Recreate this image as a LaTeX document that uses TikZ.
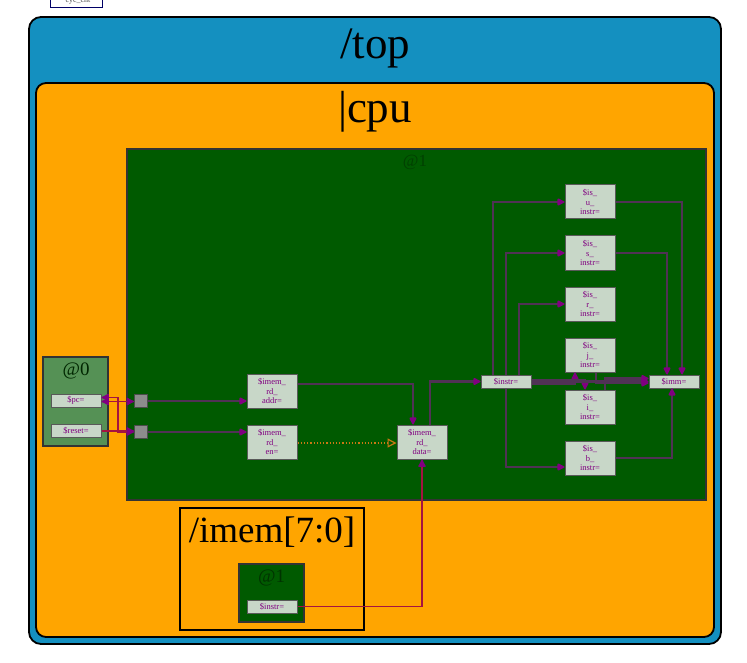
\documentclass[tikz,border=0pt]{standalone}
\usepackage{fontspec}
\setmainfont{Liberation Serif}
\usetikzlibrary{arrows.meta}
\definecolor{topblue}{RGB}{20,144,192}
\definecolor{cpuorange}{RGB}{255,165,0}
\definecolor{stgreen}{RGB}{0,90,0}
\definecolor{stzero}{RGB}{85,145,85}
\definecolor{sigfill}{RGB}{200,215,200}
\definecolor{sigtext}{RGB}{128,0,128}
\definecolor{wirec}{RGB}{80,50,85}
\definecolor{headc}{RGB}{128,0,128}
\definecolor{redwirec}{RGB}{165,20,65}
\definecolor{dotc}{RGB}{200,120,20}
\tikzset{
  container/.style={draw=black, line width=1.8pt, inner sep=0pt},
  stage/.style={draw=black!80, line width=1.2pt, inner sep=0pt},
  sig/.style={draw=black!65, line width=1pt, fill=sigfill, text=sigtext,
    minimum width=50pt, inner sep=0pt, align=center,
    font=\fontsize{8.5}{9.6}\selectfont},
  sigone/.style={sig, minimum height=13pt},
  sigthree/.style={sig, minimum height=34pt},
  sqbox/.style={draw=black!70, line width=1pt, fill=black!45, minimum size=13pt, inner sep=0pt},
  pwire/.style={draw=wirec, line width=2.2pt, -{Latex[length=9pt,width=9pt,round,color=headc]}},
  rwire/.style={draw=redwirec, line width=1.4pt, -{Latex[length=9pt,width=9pt,round,color=headc]}},
  dwire/.style={draw=dotc, line width=1.2pt, dotted, -{Triangle[open,length=9pt,width=9pt,line width=1.2pt]}},
  bigtext/.style={font=\fontsize{45}{45}\selectfont},
}
\begin{document}
\begin{tikzpicture}[x=1pt,y=-1pt]
\useasboundingbox (0,0) rectangle (747,663);
\fill[white] (0,0) rectangle (747,663);
% cyc_cnt box (cut at top)
\node[draw=black!60!blue, line width=1pt, fill=white, minimum width=52pt, minimum height=15pt, inner sep=0pt,
  font=\fontsize{8}{8}\selectfont, text=black!70] (cyc) at (76,0.5) {*cyc\_cnt};
% containers
\node[container, fill=topblue, rounded corners=12pt, minimum width=692pt, minimum height=627pt] (top) at (375,330.5) {};
\node[bigtext] (toplbl) at (375,48) {/top};
\node[container, fill=cpuorange, rounded corners=10pt, minimum width=678pt, minimum height=554pt] (cpu) at (375,360) {};
\node[bigtext] (cpulbl) at (375,112) {|cpu};
\node[stage, fill=stgreen, minimum width=579pt, minimum height=351pt] (st1) at (416.5,324.5) {};
\node[font=\fontsize{17}{17}\selectfont, text=black!75!green] (st1lbl) at (415,162) {@1};
\node[stage, fill=stzero, minimum width=65pt, minimum height=89pt] (st0) at (75.5,401.5) {};
\node[font=\fontsize{19}{19}\selectfont, text=black!85!green] (st0lbl) at (76,371) {@0};
\node[container, line width=1.4pt, minimum width=184pt, minimum height=122pt] (imem) at (272,569) {};
\node[font=\fontsize{37}{37}\selectfont] (imemlbl) at (272,532) {/imem[7:0]};
\node[stage, fill=stgreen, minimum width=65pt, minimum height=58pt] (ist) at (271.5,593) {};
\node[font=\fontsize{19}{19}\selectfont, text=black!80!green] (istlbl) at (271.5,578) {@1};
% signals
\node[sigone] (pc) at (76,400.5) {\$pc=};
\node[sigone] (reset) at (76,431) {\$reset=};
\node[sqbox] (sq1) at (141,401) {};
\node[sqbox] (sq2) at (141,432) {};
\node[sigthree] (addr) at (272,391) {\$imem\_\\rd\_\\addr=};
\node[sigthree] (en) at (272,442) {\$imem\_\\rd\_\\en=};
\node[sigthree] (data) at (422,442) {\$imem\_\\rd\_\\data=};
\node[sigone] (instr) at (506,381.5) {\$instr=};
\node[sigone] (imm) at (674,381.5) {\$imm=};
\node[sigthree] (isu) at (590,202) {\$is\_\\u\_\\instr=};
\node[sigthree] (iss) at (590,253) {\$is\_\\s\_\\instr=};
\node[sigthree] (isr) at (590,304) {\$is\_\\r\_\\instr=};
\node[sigthree] (isj) at (590,355) {\$is\_\\j\_\\instr=};
\node[sigthree] (isi) at (590,407) {\$is\_\\i\_\\instr=};
\node[sigthree] (isb) at (590,458) {\$is\_\\b\_\\instr=};
\node[sigone] (iinstr) at (272,606.5) {\$instr=};
\coordinate (bend) at (118,0);
% wires: pc / reset to squares
\draw[rwire, {Latex[length=9pt,width=9pt,round,color=headc]}-{Latex[length=9pt,width=9pt,round,color=headc]}] ([yshift=-1]pc.east) -- ([yshift=-1]pc.east -| sq1.west);
\draw[rwire, {Latex[length=9pt,width=9pt,round,color=headc]}-{Latex[length=9pt,width=9pt,round,color=headc]}] ([yshift=3]pc.east) -- ([yshift=3]pc.east -| bend) |- (sq2.west);
\draw[rwire] (reset.east) -- (reset.east -| sq2.west);
% squares to addr / en
\draw[pwire] (sq1.east) -- (sq1.east -| addr.west);
\draw[pwire] (sq2.east) -- (sq2.east -| en.west);
% addr -> data, en -> data
\draw[pwire] ([yshift=7]addr.east) -| ([xshift=-9]data.north);
\draw[dwire] ([yshift=-1]en.east) -- ([yshift=-1]en.east -| data.west);
% data -> instr
\draw[pwire] ([xshift=8]data.north) |- (instr.west);
% imem instr -> data
\draw[rwire] (iinstr.east) -| (data.south);
% instr -> is_*
\draw[pwire] ([xshift=-13]instr.north) |- (isu.west);
\draw[pwire] (instr.north) |- (iss.west);
\draw[pwire] ([xshift=13]instr.north) |- (isr.west);
\draw[pwire] (instr.south) |- ([yshift=-9]isb.west);
\draw[pwire] ([yshift=-2]instr.east) -| ([xshift=-15]isj.south);
\draw[pwire] ([yshift=1.5]instr.east) -| ([xshift=-5]isi.north);
\draw[pwire] ([yshift=0]instr.east) -- (instr.east -| imm.west);
% is_* -> imm
\draw[pwire] (isu.east) -| ([xshift=8]imm.north);
\draw[pwire] (iss.east) -| ([xshift=-7]imm.north);
\draw[pwire] (isb.east) -| ([xshift=-2]imm.south);
\draw[pwire] ([xshift=6]isj.south) |- ([yshift=-1.5]imm.west);
\draw[pwire] ([xshift=15]isi.north) |- ([yshift=3]imm.west);
\end{tikzpicture}
\end{document}
